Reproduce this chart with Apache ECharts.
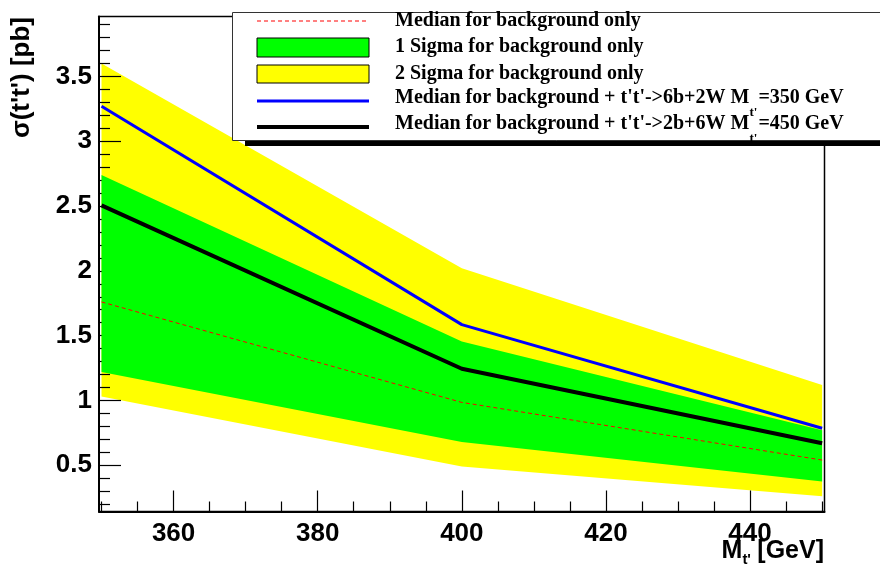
<!DOCTYPE html>
<html><head><meta charset="utf-8">
<script src="https://cdn.jsdelivr.net/npm/echarts@6/dist/echarts.min.js"></script>
<style>html,body{margin:0;padding:0;background:#fff}#c{width:880px;height:567px}</style>
</head><body><div id="c"></div>
<script>
// ---- data ----
const masses       = [350, 400, 450];
const twoSigmaLow  = [1.03, 0.49, 0.26];
const twoSigmaHigh = [3.60, 2.02, 1.12];
const oneSigmaLow  = [1.22, 0.68, 0.375];
const oneSigmaHigh = [2.74, 1.455, 0.77];
const medianBkg    = [1.76, 0.985, 0.54];
const median6b2W   = [3.27, 1.585, 0.785];
const median2b6W   = [2.505, 1.245, 0.67];
// ---- ticks ----
const xMajorTicks = [360, 380, 400, 420, 440];
const xMinorTicks = [350, 355, 365, 370, 375, 385, 390, 395, 405, 410, 415, 425, 430, 435, 445, 450];
const yMajorTicks = [0.5, 1, 1.5, 2, 2.5, 3, 3.5];
const yMinorTicks = [0.2, 0.3, 0.4, 0.6, 0.7, 0.8, 0.9, 1.1, 1.2, 1.3, 1.4, 1.6, 1.7, 1.8, 1.9,
                     2.1, 2.2, 2.3, 2.4, 2.6, 2.7, 2.8, 2.9, 3.1, 3.2, 3.3, 3.4, 3.6, 3.7, 3.8, 3.9];
const legendLabels = ['Median for background only', '1 Sigma for background only', '2 Sigma for background only',
                      "Median for background + t't'->6b+2W M", "Median for background + t't'->2b+6W M"];
const legendTails = ['=350 GeV', '=450 GeV'];

const X_MIN = 349.65, X_MAX = 450.33, Y_MIN = 0.143, Y_MAX = 3.963;

const pairs = (ys) => masses.map((m, i) => [m, ys[i]]);
const bands = (lo, hi) => masses.map((m, i) => [m, lo[i], hi[i]]);

const chart = echarts.init(document.getElementById('c'), null, {renderer: 'canvas'});
const labelFont = {fontFamily: '"Liberation Sans", Arial, sans-serif', fontWeight: 'bold', fontSize: 26, color: '#000'};
const serif = '"Liberation Serif", "Times New Roman", serif';

function measure(txt, font) {
  const c = document.createElement('canvas').getContext('2d');
  c.font = font; return c.measureText(txt).width;
}
const legFont = 'bold 20px ' + serif;
const textX = 395;
const rowY = [21, 47, 74, 98, 124];

const legendGraphics = [
  {type: 'rect', shape: {x: 245, y: 18, width: 700, height: 128}, style: {fill: '#000'}, z: 100},
  {type: 'rect', shape: {x: 232.5, y: 12.5, width: 700, height: 128}, style: {fill: '#fff', stroke: '#333', lineWidth: 1}, z: 101},
  {type: 'line', shape: {x1: 257, y1: rowY[0], x2: 369, y2: rowY[0]}, style: {stroke: '#ff0000', lineWidth: 1, lineDash: [4, 3]}, z: 102},
  {type: 'rect', shape: {x: 257, y: rowY[1] - 9, width: 112, height: 19}, style: {fill: '#00ff00', stroke: '#000', lineWidth: 1}, z: 102},
  {type: 'rect', shape: {x: 257, y: rowY[2] - 9, width: 112, height: 18}, style: {fill: '#ffff00', stroke: '#000', lineWidth: 1}, z: 102},
  {type: 'line', shape: {x1: 257, y1: rowY[3] + 3, x2: 369, y2: rowY[3] + 3}, style: {stroke: '#0000ff', lineWidth: 3}, z: 102},
  {type: 'line', shape: {x1: 257, y1: rowY[4] + 3, x2: 369, y2: rowY[4] + 3}, style: {stroke: '#000', lineWidth: 4}, z: 102}
];
legendLabels.forEach((t, i) => {
  legendGraphics.push({type: 'text', x: textX, y: rowY[i], z: 103,
    style: {text: t, font: legFont, fill: '#000', verticalAlign: 'middle', align: 'left'}});
  if (i >= 3) {
    const w = measure(t, legFont);
    legendGraphics.push({type: 'text', x: textX + w, y: rowY[i] + 15, z: 103,
      style: {text: "t'", font: 'bold 13px ' + serif, fill: '#000', verticalAlign: 'middle', align: 'left'}});
    legendGraphics.push({type: 'text', x: textX + w + 9, y: rowY[i], z: 103,
      style: {text: legendTails[i - 3], font: legFont, fill: '#000', verticalAlign: 'middle', align: 'left'}});
  }
});

// axis titles
const yTitle = {type: 'text', x: 22, y: 17, rotation: Math.PI / 2, z: 50,
  style: {text: "σ(t't') [pb]", font: 'bold 26px "Liberation Sans", Arial, sans-serif', fill: '#000', align: 'right', verticalAlign: 'middle'}};
const xtFont = 'bold 25px "Liberation Sans", Arial, sans-serif';
const gevW = measure(' [GeV]', xtFont);
const xTitle = [
  {type: 'text', x: 824, y: 551, z: 50, style: {text: ' [GeV]', font: xtFont, fill: '#000', align: 'right', verticalAlign: 'middle'}},
  {type: 'text', x: 824 - gevW - 8, y: 560, z: 50, style: {text: "t'", font: 'bold 15px "Liberation Sans", Arial, sans-serif', fill: '#000', align: 'left', verticalAlign: 'middle'}},
  {type: 'text', x: 824 - gevW - 8, y: 551, z: 50, style: {text: 'M', font: xtFont, fill: '#000', align: 'right', verticalAlign: 'middle'}}
];

function bandRenderer(color) {
  return function (params, api) {
    if (params.dataIndexInside !== 0) return null;
    const n = params.dataInsideLength;
    const top = [], bot = [];
    for (let i = 0; i < n; i++) {
      top.push(api.coord([api.value(0, i), api.value(2, i)]));
      bot.push(api.coord([api.value(0, i), api.value(1, i)]));
    }
    return {type: 'polygon', shape: {points: top.concat(bot.reverse())}, style: {fill: color}};
  };
}

const option = {
  animation: false,
  backgroundColor: '#fff',
  grid: {left: 99, top: 16.5, right: 55.5, bottom: 55.5, show: true, borderColor: '#000', borderWidth: 1.5, backgroundColor: 'transparent'},
  xAxis: [
    {type: 'value', min: X_MIN, max: X_MAX, position: 'bottom', z: 2,
     axisLine: {show: true, lineStyle: {color: '#000', width: 2}},
     axisTick: {show: true, inside: true, length: 21, customValues: xMajorTicks, lineStyle: {color: '#000', width: 1.2}},
     axisLabel: Object.assign({customValues: xMajorTicks, margin: 9}, labelFont),
     splitLine: {show: false}},
    {type: 'value', min: X_MIN, max: X_MAX, position: 'bottom', z: 2,
     axisLine: {show: false},
     axisTick: {show: true, inside: true, length: 10, customValues: xMinorTicks, lineStyle: {color: '#000', width: 1.2}},
     axisLabel: {show: false}, splitLine: {show: false}}
  ],
  yAxis: [
    {type: 'value', min: Y_MIN, max: Y_MAX, position: 'left', z: 2,
     axisLine: {show: true, lineStyle: {color: '#000', width: 2}},
     axisTick: {show: true, inside: true, length: 22, customValues: yMajorTicks, lineStyle: {color: '#000', width: 1.2}},
     axisLabel: Object.assign({customValues: yMajorTicks, margin: 7}, labelFont),
     splitLine: {show: false}},
    {type: 'value', min: Y_MIN, max: Y_MAX, position: 'left', z: 2,
     axisLine: {show: false},
     axisTick: {show: true, inside: true, length: 11, customValues: yMinorTicks, lineStyle: {color: '#000', width: 1.2}},
     axisLabel: {show: false}, splitLine: {show: false}}
  ],
  series: [
    {name: '2 Sigma for background only', type: 'custom', data: bands(twoSigmaLow, twoSigmaHigh),
     encode: {x: 0, y: [1, 2]}, renderItem: bandRenderer('#ffff00'), z: 1, silent: true},
    {name: '1 Sigma for background only', type: 'custom', data: bands(oneSigmaLow, oneSigmaHigh),
     encode: {x: 0, y: [1, 2]}, renderItem: bandRenderer('#00ff00'), z: 3, silent: true},
    {name: 'Median for background only', type: 'line', data: pairs(medianBkg), symbol: 'none',
     lineStyle: {color: '#ff0000', width: 1, type: [4, 3]}, z: 4},
    {name: 'Median 6b2W', type: 'line', data: pairs(median6b2W), symbol: 'none',
     lineStyle: {color: '#0000ff', width: 3}, z: 5},
    {name: 'Median 2b6W', type: 'line', data: pairs(median2b6W), symbol: 'none',
     lineStyle: {color: '#000', width: 4}, z: 5}
  ],
  graphic: legendGraphics.concat([yTitle], xTitle)
};
chart.setOption(option);
</script></body></html>
